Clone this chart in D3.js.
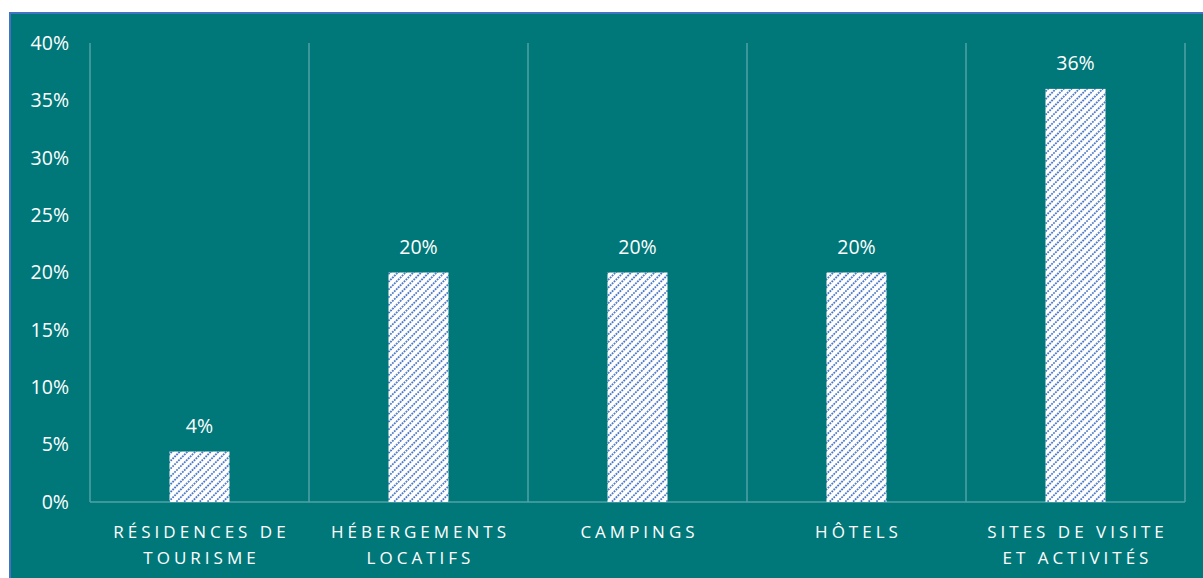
<!DOCTYPE html>
<html><head><meta charset="utf-8">
<script src="https://cdn.jsdelivr.net/npm/d3@7"></script>
<style>html,body{margin:0;padding:0;background:#fff;}svg{display:block;}</style>
</head><body>
<script>
const categories = [["RÉSIDENCES DE","TOURISME"],["HÉBERGEMENTS","LOCATIFS"],["CAMPINGS"],["HÔTELS"],["SITES DE VISITE","ET ACTIVITÉS"]];
const values = [4.4, 20, 20, 20, 36];
const valueLabels = ["4%","20%","20%","20%","36%"];
const yTicks = [0,5,10,15,20,25,30,35,40];

(function(){
const W = 1203, H = 578;
const font = "'Open Sans', Lato, sans-serif";
const svg = d3.select("body").append("svg").attr("width", W).attr("height", H);
const defs = svg.append("defs");
const pat = defs.append("pattern").attr("id","hatch").attr("patternUnits","userSpaceOnUse")
  .attr("width",5.5).attr("height",5.5).attr("patternTransform","rotate(45)");
pat.append("rect").attr("width",5.5).attr("height",5.5).attr("fill","#fff");
pat.append("line").attr("x1",1).attr("y1",0).attr("x2",1).attr("y2",5.5)
  .attr("stroke","#4472C4").attr("stroke-width",1.7).attr("stroke-dasharray","1.75,1");

svg.append("rect").attr("x",9).attr("y",12).attr("width",W-9).attr("height",H-12).attr("fill","#00787A");
svg.append("line").attr("x1",9).attr("x2",W).attr("y1",13).attr("y2",13).attr("stroke","#4472C4").attr("stroke-width",2);
svg.append("line").attr("x1",10).attr("x2",10).attr("y1",12).attr("y2",H).attr("stroke","#4472C4").attr("stroke-width",2);

const pl = 90, pr = 1185, pt = 43, pb = 502;
const x = d3.scaleBand().domain(d3.range(categories.length)).range([pl,pr]).paddingInner(0).paddingOuter(0);
const y = d3.scaleLinear().domain([0,40]).range([pb,pt]);
const gridColor = "#4FA2A4";

const bounds = d3.range(categories.length+1).map(i => i < categories.length ? x(i) : x(i-1)+x.bandwidth());
svg.append("g").selectAll("line").data(bounds).join("line")
  .attr("x1",d=>d).attr("x2",d=>d).attr("y1",pt).attr("y2",pb)
  .attr("stroke",gridColor).attr("stroke-width",1.5);
svg.append("line").attr("x1",pl).attr("x2",pr).attr("y1",pb).attr("y2",pb)
  .attr("stroke",gridColor).attr("stroke-width",1.5);

const yAxis = d3.axisLeft(y).tickValues(yTicks).tickFormat(d=>d+"%").tickSize(0).tickPadding(0);
const ga = svg.append("g").attr("transform",`translate(${69},0)`).call(yAxis);
ga.select(".domain").remove();
ga.selectAll("text").attr("fill","#fff").attr("font-family",font).attr("font-size",19.5);

const bw = 60;
svg.append("g").selectAll("rect").data(values).join("rect")
  .attr("x",(d,i)=>x(i)+x.bandwidth()/2-bw/2).attr("width",bw)
  .attr("y",d=>y(d)).attr("height",d=>pb-y(d))
  .attr("fill","url(#hatch)");

svg.append("g").selectAll("text").data(values).join("text")
  .attr("x",(d,i)=>x(i)+x.bandwidth()/2).attr("y",d=>y(d)-19)
  .attr("text-anchor","middle").attr("fill","#fff")
  .attr("font-family",font).attr("font-size",19.5)
  .text((d,i)=>valueLabels[i]);

const cg = svg.append("g").selectAll("text").data(categories).join("text")
  .attr("x",(d,i)=>x(i)+x.bandwidth()/2+2).attr("y",538)
  .attr("text-anchor","middle").attr("fill","#fff")
  .attr("font-family",font).attr("font-size",17)
  .attr("letter-spacing","4px");
cg.selectAll("tspan").data(d=>d).join("tspan")
  .attr("x",function(){return d3.select(this.parentNode).attr("x");})
  .attr("dy",(d,i)=>i===0?0:26).text(d=>d);
})();
</script>
</body></html>
